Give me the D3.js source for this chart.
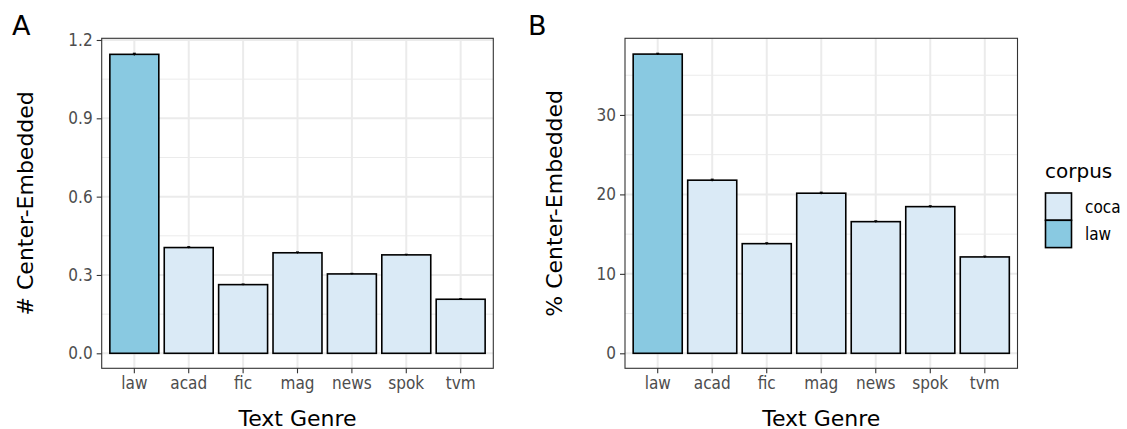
<!DOCTYPE html>
<html>
<head>
<meta charset="utf-8">
<script src="https://cdn.jsdelivr.net/npm/d3@7/dist/d3.min.js"></script>
<style>
  html, body { margin: 0; padding: 0; background: #fff; }
  svg { display: block; }
  .tick text { font-family: 'DejaVu Sans Condensed', 'DejaVu Sans', sans-serif; font-stretch: condensed; }
</style>
</head>
<body>
<svg id="chart" width="1127" height="429"></svg>
<script>
// ---- data ----
const categories = ["law", "acad", "fic", "mag", "news", "spok", "tvm"];
const corpusOf = ["law", "coca", "coca", "coca", "coca", "coca", "coca"];
const countMean = [1.145, 0.405, 0.263, 0.385, 0.304, 0.377, 0.207];
const countSE = [0.004, 0.003, 0.002, 0.003, 0.002, 0.002, 0.002];
const pctMean = [37.66, 21.79, 13.80, 20.15, 16.57, 18.46, 12.13];
const pctSE = [0.10, 0.12, 0.10, 0.12, 0.10, 0.10, 0.10];
const countTicks = [0, 0.3, 0.6, 0.9, 1.2];
const countMinor = [0.15, 0.45, 0.75, 1.05];
const pctTicks = [0, 10, 20, 30];
const pctMinor = [5, 15, 25, 35];
const legendKeys = ["coca", "law"];
const colors = { coca: "#DAEAF6", law: "#89C9E1" };

const svg = d3.select("#chart");
const tickFont = "'DejaVu Sans Condensed', 'DejaVu Sans', sans-serif";
const titleFont = "'DejaVu Sans', sans-serif";

function panel(opts) {
  const { left, right, top, bottom, means, ses, ticks, minor, fmt, ylabel, ylabelX, tag, tagX } = opts;
  const g = svg.append("g");
  const maxV = d3.max(means.map((m, i) => m + ses[i]));
  const y = d3.scaleLinear().domain([-0.05 * maxV, maxV * 1.05]).range([bottom, top]);
  const x = d3.scaleBand().domain(categories).range([left, right]).paddingInner(0.1).paddingOuter(0.15);

  // background
  g.append("rect").attr("x", left).attr("y", top).attr("width", right - left).attr("height", bottom - top).attr("fill", "#fff");
  // minor grid
  g.selectAll(".minor").data(minor).enter().append("line")
    .attr("x1", left).attr("x2", right).attr("y1", d => y(d)).attr("y2", d => y(d))
    .attr("stroke", "#EBEBEB").attr("stroke-width", 1);
  // major grid y
  g.selectAll(".majy").data(ticks).enter().append("line")
    .attr("x1", left).attr("x2", right).attr("y1", d => y(d)).attr("y2", d => y(d))
    .attr("stroke", "#EBEBEB").attr("stroke-width", 2);
  // major grid x
  g.selectAll(".majx").data(categories).enter().append("line")
    .attr("x1", d => x(d) + x.bandwidth() / 2).attr("x2", d => x(d) + x.bandwidth() / 2)
    .attr("y1", top).attr("y2", bottom)
    .attr("stroke", "#EBEBEB").attr("stroke-width", 2);

  // bars
  g.selectAll(".bar").data(categories).enter().append("rect")
    .attr("x", d => x(d)).attr("width", x.bandwidth())
    .attr("y", (d, i) => y(means[i])).attr("height", (d, i) => y(0) - y(means[i]))
    .attr("fill", (d, i) => colors[corpusOf[i]])
    .attr("stroke", "#000").attr("stroke-width", 1.6);

  // error bars
  const eb = g.selectAll(".eb").data(categories).enter().append("g");
  eb.append("line")
    .attr("x1", d => x(d) + x.bandwidth() / 2).attr("x2", d => x(d) + x.bandwidth() / 2)
    .attr("y1", (d, i) => y(means[i] - ses[i])).attr("y2", (d, i) => y(means[i] + ses[i]))
    .attr("stroke", "#000").attr("stroke-width", 1.2);
  eb.append("line")
    .attr("x1", d => x(d) + x.bandwidth() / 2 - 1.5).attr("x2", d => x(d) + x.bandwidth() / 2 + 1.5)
    .attr("y1", (d, i) => y(means[i] + ses[i])).attr("y2", (d, i) => y(means[i] + ses[i]))
    .attr("stroke", "#000").attr("stroke-width", 1.2);

  // panel border
  g.append("rect").attr("x", left).attr("y", top).attr("width", right - left).attr("height", bottom - top)
    .attr("fill", "none").attr("stroke", "#333333").attr("stroke-width", 1.1);

  // axes
  const ya = g.append("g").attr("transform", `translate(${left},0)`)
    .call(d3.axisLeft(y).tickValues(ticks).tickFormat(fmt).tickSize(5).tickPadding(4));
  ya.select(".domain").remove();
  ya.selectAll(".tick line").attr("stroke", "#333333").attr("stroke-width", 1.1);
  ya.selectAll(".tick text").attr("fill", "#4D4D4D").style("font-size", "17px").style("font-family", tickFont);

  const xa = g.append("g").attr("transform", `translate(0,${bottom})`)
    .call(d3.axisBottom(x).tickSize(5).tickPadding(4));
  xa.select(".domain").remove();
  xa.selectAll(".tick line").attr("stroke", "#333333").attr("stroke-width", 1.1);
  xa.selectAll(".tick text").attr("fill", "#4D4D4D").style("font-size", "17px").style("font-family", tickFont);

  // axis titles
  g.append("text").attr("x", (left + right) / 2).attr("y", 425.5)
    .attr("text-anchor", "middle").style("font-family", titleFont).style("font-size", "22px").attr("fill", "#000")
    .text("Text Genre");
  g.append("text").attr("transform", `translate(${ylabelX},${(top + bottom) / 2}) rotate(-90)`)
    .attr("text-anchor", "middle").style("font-family", titleFont).style("font-size", "22px").attr("fill", "#000")
    .text(ylabel);
  // tag
  g.append("text").attr("x", tagX).attr("y", 35).style("font-family", titleFont).style("font-size", "27px").attr("fill", "#000")
    .text(tag);
}

panel({ left: 101.7, right: 493.3, top: 38.3, bottom: 368.3, means: countMean, ses: countSE,
  ticks: countTicks, minor: countMinor, fmt: d3.format(".1f"), ylabel: "# Center-Embedded", ylabelX: 33, tag: "A", tagX: 12 });
panel({ left: 625, right: 1017.5, top: 38.3, bottom: 368.3, means: pctMean, ses: pctSE,
  ticks: pctTicks, minor: pctMinor, fmt: d3.format("d"), ylabel: "% Center-Embedded", ylabelX: 561.5, tag: "B", tagX: 528 });

// legend
const lg = svg.append("g");
lg.append("text").attr("x", 1045).attr("y", 178).style("font-family", titleFont).style("font-size", "20px").attr("fill", "#000").text("corpus");
const keyH = 27.3;
lg.selectAll(".key").data(legendKeys).enter().append("rect")
  .attr("x", 1045.5).attr("y", (d, i) => 193 + i * keyH).attr("width", 26).attr("height", keyH)
  .attr("fill", d => colors[d]).attr("stroke", "#000").attr("stroke-width", 1.6);
lg.selectAll(".lab").data(legendKeys).enter().append("text")
  .attr("x", 1085).attr("y", (d, i) => 193 + i * keyH + keyH / 2).attr("dy", "0.35em")
  .style("font-family", tickFont).style("font-stretch", "condensed").style("font-size", "17px").attr("fill", "#000")
  .text(d => d);
</script>
</body>
</html>
